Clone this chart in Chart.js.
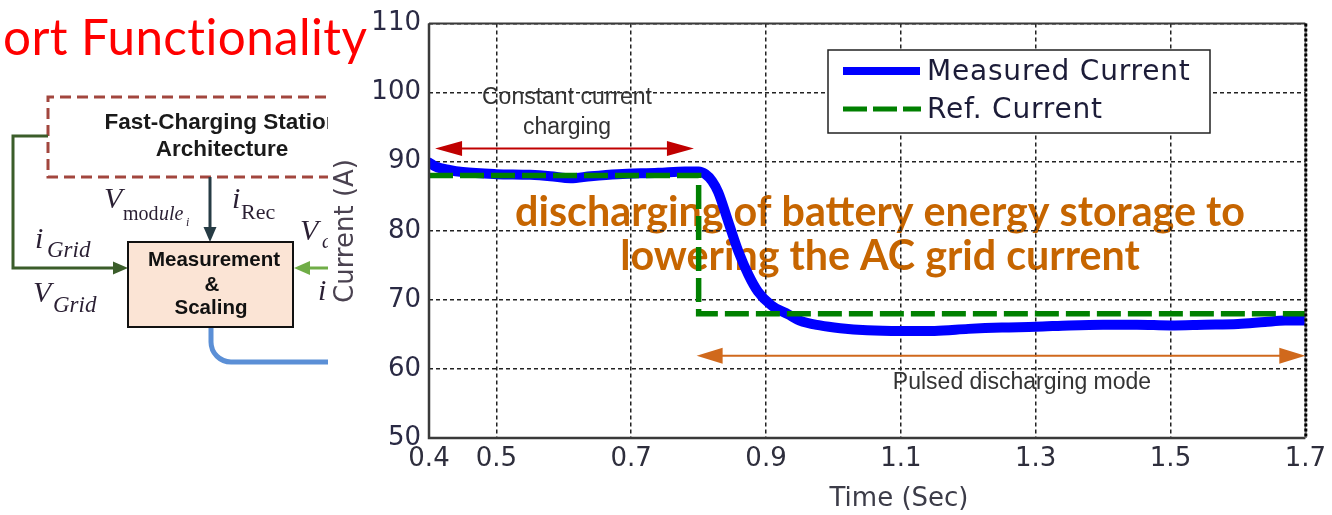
<!DOCTYPE html>
<html>
<head>
<meta charset="utf-8">
<script src="https://cdn.jsdelivr.net/npm/chart.js@4.4.0/dist/chart.umd.min.js"></script>
<style>
  html, body { margin: 0; padding: 0; background: #fff; overflow: hidden; }
  canvas { display: block; }
</style>
</head>
<body>
<canvas id="c" width="1332" height="515"></canvas>
<script>
// ---- data ----
const timeTicks = [0.4, 0.5, 0.7, 0.9, 1.1, 1.3, 1.5, 1.7];
const currentTicks = [50, 60, 70, 80, 90, 100, 110];

const measuredTime = [
  0.400, 0.410, 0.430, 0.450, 0.500, 0.550, 0.580, 0.610, 0.640, 0.680,
  0.740, 0.780, 0.800, 0.810, 0.820, 0.829, 0.844, 0.859, 0.874, 0.888,
  0.908, 0.933, 0.950, 0.980, 1.010, 1.050, 1.100, 1.150, 1.200, 1.250,
  1.300, 1.350, 1.400, 1.450, 1.500, 1.550, 1.600, 1.640, 1.670, 1.700
];
const measuredCurrent = [
  89.9, 89.3, 88.8, 88.5, 88.2, 88.1, 87.9, 87.6, 87.9, 88.2,
  88.4, 88.6, 88.6, 88.2, 87.2, 85.6, 81.3, 77.0, 73.6, 71.2,
  69.2, 67.9, 67.0, 66.3, 65.9, 65.6, 65.5, 65.5, 65.8, 66.0,
  66.1, 66.3, 66.4, 66.4, 66.3, 66.4, 66.5, 66.8, 67.0, 67.0
];

const refTime = [0.4, 0.8, 0.8, 1.7];
const refCurrent = [88, 88, 68, 68];

const seriesNames = ['Measured Current', 'Ref. Current'];
const seriesColors = ['#0000ff', '#008000'];

const toPoints = (xs, ys) => xs.map((x, i) => ({ x: x, y: ys[i] }));

// ---- drawing helpers ----
function arrowHead(ctx, tipX, tipY, dx, dy, len, half, color) {
  const bx = tipX - dx * len, by = tipY - dy * len;
  ctx.fillStyle = color;
  ctx.beginPath();
  ctx.moveTo(tipX, tipY);
  ctx.lineTo(bx - dy * half, by + dx * half);
  ctx.lineTo(bx + dy * half, by - dx * half);
  ctx.closePath();
  ctx.fill();
}

function doubleArrow(ctx, x1, x2, y, color, width, len, half) {
  ctx.strokeStyle = color;
  ctx.lineWidth = width;
  ctx.setLineDash([]);
  ctx.beginPath();
  ctx.moveTo(x1 + len * 0.6, y);
  ctx.lineTo(x2 - len * 0.6, y);
  ctx.stroke();
  arrowHead(ctx, x1, y, -1, 0, len, half, color);
  arrowHead(ctx, x2, y, 1, 0, len, half, color);
}

function fitFont(ctx, text, weight, family, width) {
  ctx.font = weight + ' 40px ' + family;
  const w = ctx.measureText(text).width;
  return 40 * width / w;
}

function mathText(ctx, parts) {
  parts.forEach(p => {
    ctx.font = p[0];
    ctx.fillText(p[1], p[2], p[3]);
  });
}

// Block diagram of the station to the left of the plot
function drawDiagram(ctx) {
  ctx.save();
  ctx.beginPath();
  ctx.rect(0, 0, 328, 515);
  ctx.clip();

  // dashed architecture frame
  ctx.strokeStyle = '#a2463e';
  ctx.lineWidth = 3;
  ctx.setLineDash([11, 6]);
  ctx.beginPath();
  ctx.moveTo(360, 97);
  ctx.lineTo(48, 97);
  ctx.lineTo(48, 177);
  ctx.lineTo(360, 177);
  ctx.stroke();
  ctx.setLineDash([]);

  ctx.fillStyle = '#1a1a1a';
  ctx.textAlign = 'center';
  ctx.textBaseline = 'alphabetic';
  ctx.font = 'bold 22.5px "Liberation Sans", Arial, sans-serif';
  ctx.fillText('Fast-Charging Station', 222, 129);
  ctx.fillText('Architecture', 222, 156);

  // grid feed
  ctx.strokeStyle = '#3b5d2a';
  ctx.lineWidth = 3;
  ctx.beginPath();
  ctx.moveTo(48, 136);
  ctx.lineTo(13, 136);
  ctx.lineTo(13, 268);
  ctx.lineTo(118, 268);
  ctx.stroke();
  arrowHead(ctx, 128, 268, 1, 0, 15, 6.5, '#3b5d2a');

  // module measurements into the block
  ctx.strokeStyle = '#263b44';
  ctx.beginPath();
  ctx.moveTo(210, 177);
  ctx.lineTo(210, 232);
  ctx.stroke();
  arrowHead(ctx, 210, 242, 0, 1, 15, 6.5, '#263b44');

  // DC side input
  ctx.strokeStyle = '#70ad47';
  ctx.beginPath();
  ctx.moveTo(340, 268);
  ctx.lineTo(305, 268);
  ctx.stroke();
  arrowHead(ctx, 294, 268, -1, 0, 16, 7, '#70ad47');

  // output to the controller
  ctx.strokeStyle = '#5b8fd6';
  ctx.lineWidth = 5;
  ctx.beginPath();
  ctx.moveTo(211, 327);
  ctx.lineTo(211, 342);
  ctx.arcTo(211, 362, 231, 362, 20);
  ctx.lineTo(340, 362);
  ctx.stroke();

  // measurement block
  ctx.fillStyle = '#fbe4d5';
  ctx.fillRect(128, 242, 165, 85);
  ctx.strokeStyle = '#111';
  ctx.lineWidth = 2;
  ctx.strokeRect(128, 242, 165, 85);
  ctx.fillStyle = '#111';
  ctx.font = 'bold 20.5px "Liberation Sans", Arial, sans-serif';
  ctx.fillText('Measurement', 214, 266);
  ctx.fillText('&', 212, 291);
  ctx.fillText('Scaling', 211, 314);

  // signal names
  ctx.textAlign = 'left';
  ctx.fillStyle = '#2a1f33';
  const serifI = 'italic 30px "Liberation Serif", "Times New Roman", serif';
  const serifU = '"Liberation Serif", "Times New Roman", serif';
  mathText(ctx, [
    [serifI, 'V', 104, 208],
    ['20px ' + serifU, 'mod', 123, 220],
    ['italic 20px ' + serifU, 'ule', 159, 220],
    ['italic 12px ' + serifU, 'i', 186, 226],
    [serifI, 'i', 232, 208],
    ['22px ' + serifU, 'Rec', 241, 219],
    [serifI, 'i', 35, 248],
    ['italic 23px ' + serifU, 'Grid', 47, 257],
    [serifI, 'V', 33, 302],
    ['italic 23px ' + serifU, 'Grid', 53, 312],
    [serifI, 'V', 300, 240],
    ['italic 20px ' + serifU, 'd', 322, 248],
    [serifI, 'i', 318, 300]
  ]);
  ctx.restore();
}

const overlay = {
  id: 'overlay',
  beforeDraw(chart) {
    const ctx = chart.ctx;
    ctx.save();
    ctx.fillStyle = '#fff';
    ctx.fillRect(0, 0, chart.width, chart.height);
    drawDiagram(ctx);

    // slide heading
    ctx.fillStyle = '#ff0000';
    ctx.textAlign = 'left';
    ctx.textBaseline = 'alphabetic';
    if ('letterSpacing' in ctx) ctx.letterSpacing = '0.4px';
    const ts = fitFont(ctx, 'ort Functionality', '400', 'Lato, sans-serif', 366);
    ctx.font = '400 ' + ts + 'px Lato, sans-serif';
    ctx.fillText('ort Functionality', 3, 55);
    if ('letterSpacing' in ctx) ctx.letterSpacing = '0px';

    // callout under the grid
    ctx.fillStyle = '#c66500';
    ctx.textAlign = 'center';
    ctx.textBaseline = 'middle';
    const cs = fitFont(ctx, 'discharging of battery energy storage to', 'bold', 'Lato, sans-serif', 730);
    ctx.font = 'bold ' + cs + 'px Lato, sans-serif';
    ctx.fillText('discharging of battery energy storage to', 880, 213);
    ctx.fillText('lowering the AC grid current', 880, 257);
    ctx.restore();
  },
  afterDatasetsDraw(chart) {
    const ctx = chart.ctx;
    const a = chart.chartArea;
    const xs = chart.scales.x, ys = chart.scales.y;
    ctx.save();

    // plot frame
    ctx.setLineDash([]);
    ctx.strokeStyle = '#3a3a3a';
    ctx.lineWidth = 2;
    ctx.beginPath();
    ctx.moveTo(a.left, a.top);
    ctx.lineTo(a.right, a.top);
    ctx.stroke();
    ctx.lineWidth = 2.5;
    ctx.beginPath();
    ctx.moveTo(a.left, a.top);
    ctx.lineTo(a.left, a.bottom);
    ctx.lineTo(a.right, a.bottom);
    ctx.stroke();
    ctx.strokeStyle = '#777';
    ctx.lineWidth = 1.5;
    ctx.beginPath();
    ctx.moveTo(a.right, a.top);
    ctx.lineTo(a.right, a.bottom);
    ctx.stroke();
    ctx.strokeStyle = '#000';
    ctx.lineWidth = 3;
    ctx.setLineDash([3, 2]);
    ctx.beginPath();
    ctx.moveTo(a.right + 0.5, a.top);
    ctx.lineTo(a.right + 0.5, a.bottom);
    ctx.stroke();
    ctx.setLineDash([]);

    // operating-mode annotations
    doubleArrow(ctx, xs.getPixelForValue(0.409), xs.getPixelForValue(0.793), ys.getPixelForValue(91.9), '#c00000', 2, 27, 7.5);
    doubleArrow(ctx, xs.getPixelForValue(0.797), a.right, ys.getPixelForValue(61.9), '#d0691c', 2, 26, 8);

    ctx.fillStyle = '#333';
    ctx.textAlign = 'center';
    ctx.textBaseline = 'middle';
    ctx.font = '23px "Liberation Sans", Arial, sans-serif';
    ctx.fillText('Constant current', 567, 98);
    ctx.fillText('charging', 567, 128);
    ctx.fillText('Pulsed discharging mode', 1022, 383);

    // axis titles
    ctx.fillStyle = '#3c3c48';
    ctx.font = '26px "DejaVu Sans", sans-serif';
    ctx.fillText('Time (Sec)', 899, 499);
    ctx.save();
    ctx.translate(346, 231);
    ctx.rotate(-Math.PI / 2);
    ctx.fillStyle = '#4a4250';
    ctx.fillText('Current (A)', 0, 0);
    ctx.restore();

    // legend
    const lx = 828, ly = 50, lw = 382, lh = 83;
    ctx.fillStyle = '#fff';
    ctx.fillRect(lx, ly, lw, lh);
    ctx.strokeStyle = '#222';
    ctx.lineWidth = 1.5;
    ctx.strokeRect(lx, ly, lw, lh);
    const ds = chart.data.datasets;
    ctx.lineWidth = 8;
    ctx.strokeStyle = ds[0].borderColor;
    ctx.beginPath();
    ctx.moveTo(843, 71);
    ctx.lineTo(920, 71);
    ctx.stroke();
    ctx.lineWidth = 5;
    ctx.strokeStyle = ds[1].borderColor;
    ctx.setLineDash([24, 6]);
    ctx.beginPath();
    ctx.moveTo(843, 109);
    ctx.lineTo(921, 109);
    ctx.stroke();
    ctx.setLineDash([]);
    ctx.fillStyle = '#1c1c38';
    ctx.textAlign = 'left';
    ctx.font = '28px "DejaVu Sans", sans-serif';
    if ('letterSpacing' in ctx) ctx.letterSpacing = '0.8px';
    ctx.fillText(ds[0].label, 927, 73);
    ctx.fillText(ds[1].label, 927, 111);
    ctx.restore();
  }
};

new Chart(document.getElementById('c'), {
  type: 'scatter',
  data: {
    datasets: [
      {
        label: seriesNames[0],
        data: toPoints(measuredTime, measuredCurrent),
        showLine: true,
        borderColor: seriesColors[0],
        backgroundColor: seriesColors[0],
        borderWidth: 10,
        pointRadius: 0,
        cubicInterpolationMode: 'monotone',
        borderCapStyle: 'round',
        borderJoinStyle: 'round',
        order: 2
      },
      {
        label: seriesNames[1],
        data: toPoints(refTime, refCurrent),
        showLine: true,
        borderColor: seriesColors[1],
        backgroundColor: seriesColors[1],
        borderWidth: 5.5,
        borderDash: [24, 7],
        pointRadius: 0,
        tension: 0,
        order: 1
      }
    ]
  },
  options: {
    responsive: false,
    animation: false,
    devicePixelRatio: 1,
    layout: { padding: { left: 0, right: 22, top: 18, bottom: 0 } },
    plugins: {
      legend: { display: false },
      tooltip: { enabled: false }
    },
    scales: {
      x: {
        type: 'linear',
        min: timeTicks[0],
        max: timeTicks[timeTicks.length - 1],
        afterBuildTicks: axis => { axis.ticks = timeTicks.map(v => ({ value: v })); },
        afterFit: axis => { axis.height = 77; },
        ticks: {
          autoSkip: false,
          maxRotation: 0,
          padding: 6,
          color: '#2e2e3c',
          font: { family: '"DejaVu Sans", sans-serif', size: 26 },
          callback: v => Number(v).toFixed(1)
        },
        grid: { color: '#222', lineWidth: 1.5, drawTicks: false },
        border: { display: false, dash: [4, 3] }
      },
      y: {
        type: 'linear',
        min: currentTicks[0],
        max: currentTicks[currentTicks.length - 1],
        afterBuildTicks: axis => { axis.ticks = currentTicks.map(v => ({ value: v })); },
        afterFit: axis => { axis.width = 429; },
        ticks: {
          padding: 8,
          color: '#2a2a44',
          font: { family: '"DejaVu Sans", sans-serif', size: 26 },
          callback: v => String(v)
        },
        grid: { color: '#222', lineWidth: 1.5, drawTicks: false },
        border: { display: false, dash: [4, 3] }
      }
    }
  },
  plugins: [overlay]
});
</script>
</body>
</html>
